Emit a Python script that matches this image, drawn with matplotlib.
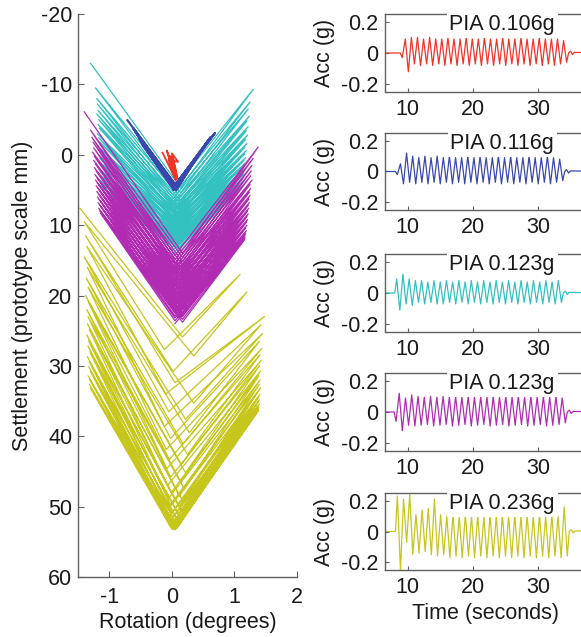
import numpy as np
import matplotlib
matplotlib.use("Agg")
import matplotlib.pyplot as plt
import matplotlib.transforms as mtransforms

plt.rcParams['font.family'] = ['Liberation Sans', 'DejaVu Sans']
plt.rcParams['axes.unicode_minus'] = False

FS = 15.5
SPINE = '#606060'
TXT = '#1a1a1a'

# ---------------- colours / labels ----------------
series_names = ['PIA 0.106g', 'PIA 0.116g', 'PIA 0.123g', 'PIA 0.123g', 'PIA 0.236g']
series_colors = ['#ee3526', '#3a48ad', '#33c1c1', '#b12bb3', '#c6c61c']

# ---------------- hysteresis data (rotation deg, settlement mm) ----------------
# red (0.106g) small cluster
red_rot = [-0.15, 0.05, -0.08, 0.06, -0.02, 0.08, 0.00, 0.10, -0.05, 0.07, 0.02, 0.09, -0.03, 0.06, 0.04, 0.07]
red_set = [-0.3, 3.3, -0.6, 3.0, 0.2, 3.4, -0.2, 1.0, 0.8, 3.5, 0.5, 3.2, 1.5, 3.6, 2.0, 3.4]

# blue (0.116g)
blue_lrot = [-0.71, -0.62, -0.58, -0.55, -0.52, -0.50, -0.48, -0.46]
blue_lset = [-4.9, -3.8, -3.2, -2.8, -2.3, -2.0, -1.6, -1.3]
blue_va = [4.4, 4.5, 4.6, 4.7, 4.8, 4.8, 4.9, 5.0]
blue_rrot = [0.69, 0.62, 0.58, 0.55, 0.52, 0.50, 0.47, 0.45]
blue_rset = [-3.1, -2.5, -2.0, -1.6, -1.2, -0.9, -0.6, -0.3]
blue_vb = [4.5, 4.6, 4.6, 4.7, 4.8, 4.9, 4.9, 5.0]
blue_vrot = (0.07, 0.03)

# cyan (0.123g)
cyan_lrot = [-1.30, -1.22, -1.20, -1.19, -1.18, -1.20, -1.17, -1.18, -1.16, -1.19, -1.17, -1.15, -1.18,
             -1.16, -1.17, -1.15, -1.16, -1.14, -1.17, -1.15, -1.16, -1.14, -1.15, -1.13, -1.15, -1.12]
cyan_lset = [-13.0, -9.5, -8.0, -7.2, -6.3, -5.8, -5.0, -4.3, -3.8, -3.0, -2.4, -1.8, -1.2,
             -0.6, 0.0, 0.5, 1.0, 1.5, 2.0, 2.4, 2.8, 3.2, 3.6, 4.0, 4.3, 4.6]
cyan_va = [4.7, 5.4, 6.0, 6.5, 6.9, 7.3, 7.7, 8.0, 8.4, 8.7, 9.0, 9.3, 9.6,
           9.9, 10.2, 10.5, 10.8, 11.1, 11.4, 11.7, 12.0, 12.3, 12.6, 12.9, 13.2, 13.6]
cyan_rrot = [1.30, 1.25, 1.22, 1.24, 1.20, 1.22, 1.19, 1.21, 1.18, 1.20, 1.17, 1.19, 1.16,
             1.18, 1.15, 1.17, 1.14, 1.16, 1.13, 1.15, 1.12, 1.14, 1.12, 1.13, 1.11, 1.12]
cyan_rset = [-9.3, -7.5, -6.5, -5.5, -4.8, -4.0, -3.4, -2.8, -2.2, -1.6, -1.1, -0.6, -0.1,
             0.4, 0.8, 1.2, 1.6, 2.0, 2.4, 2.7, 3.0, 3.3, 3.6, 3.9, 4.2, 4.5]
cyan_vb = [5.0, 5.7, 6.2, 6.7, 7.1, 7.5, 7.9, 8.2, 8.6, 8.9, 9.2, 9.5, 9.8,
           10.1, 10.4, 10.7, 11.0, 11.3, 11.6, 11.9, 12.2, 12.5, 12.8, 13.1, 13.5, 14.0]
cyan_vrot = (0.14, 0.02)

# magenta (0.123g)
mag_lrot = [-1.40, -1.30, -1.28, -1.26, -1.25, -1.27, -1.24, -1.25, -1.22, -1.24, -1.21, -1.23, -1.20,
            -1.22, -1.19, -1.21, -1.18, -1.20, -1.17, -1.19, -1.16, -1.18, -1.15, -1.17, -1.15, -1.14]
mag_lset = [-6.1, -3.5, -2.5, -1.8, -1.0, -0.4, 0.2, 0.8, 1.3, 1.8, 2.3, 2.8, 3.2,
            3.6, 4.0, 4.4, 4.8, 5.2, 5.6, 6.0, 6.4, 6.8, 7.2, 7.6, 8.0, 8.3]
mag_va = [14.0, 14.6, 15.2, 15.7, 16.2, 16.6, 17.0, 17.4, 17.8, 18.2, 18.6, 19.0, 19.4,
          19.7, 20.0, 20.4, 20.7, 21.0, 21.4, 21.7, 22.0, 22.4, 22.7, 23.0, 23.4, 23.8]
mag_rrot = [1.38, 1.30, 1.28, 1.27, 1.26, 1.28, 1.25, 1.26, 1.24, 1.25, 1.23, 1.24, 1.22,
            1.23, 1.21, 1.22, 1.20, 1.21, 1.19, 1.20, 1.18, 1.19, 1.18, 1.17, 1.17, 1.16]
mag_rset = [-1.1, 0.5, 1.5, 2.3, 3.0, 3.6, 4.2, 4.8, 5.3, 5.8, 6.3, 6.8, 7.2,
            7.6, 8.0, 8.4, 8.8, 9.2, 9.6, 10.0, 10.4, 10.8, 11.2, 11.5, 11.8, 12.1]
mag_vb = [14.3, 14.9, 15.5, 16.0, 16.4, 16.8, 17.2, 17.6, 18.0, 18.4, 18.8, 19.2, 19.5,
          19.9, 20.2, 20.5, 20.9, 21.2, 21.5, 21.9, 22.2, 22.5, 22.9, 23.2, 23.6, 24.0]
mag_vrot = (0.17, 0.05)

# yellow (0.236g)
yel_lrot = [-1.47, -1.40, -1.38, -1.36, -1.40, -1.35, -1.37, -1.34, -1.38, -1.33, -1.36, -1.34, -1.35,
            -1.32, -1.36, -1.33, -1.34, -1.31, -1.35, -1.32, -1.33, -1.30, -1.34, -1.31, -1.32, -1.30]
yel_lset = [7.6, 9.5, 11.5, 13.0, 14.5, 16.0, 17.5, 18.8, 20.0, 21.0, 22.0, 23.0, 24.0,
            24.8, 25.6, 26.4, 27.2, 28.0, 28.7, 29.4, 30.1, 30.8, 31.4, 32.0, 32.6, 33.2]
yel_va = [25.9, 28.6, 32.4, 35.3, 37.6, 39.5, 41.1, 42.6, 44.0, 45.2, 46.4, 47.5, 48.5,
          49.3, 50.0, 50.6, 51.1, 51.6, 52.0, 52.3, 52.6, 52.8, 53.0, 53.1, 53.2, 53.3]
yel_va_rot = [0.17, 0.35, 0.05, 0.35, 0.22, 0.28, 0.18, 0.25, 0.15, 0.22, 0.14, 0.20, 0.12,
              0.18, 0.11, 0.16, 0.10, 0.14, 0.09, 0.12, 0.08, 0.10, 0.07, 0.08, 0.06, 0.05]
yel_rrot = [1.09, 1.20, 1.48, 1.42, 1.45, 1.40, 1.44, 1.41, 1.43, 1.40, 1.42, 1.39, 1.41,
            1.40, 1.42, 1.38, 1.41, 1.39, 1.40, 1.38, 1.40, 1.37, 1.39, 1.38, 1.39, 1.37]
yel_rset = [17.0, 19.5, 23.0, 24.2, 25.4, 26.5, 27.5, 28.4, 29.2, 30.0, 30.7, 31.4, 32.0,
            32.6, 33.1, 33.6, 34.0, 34.4, 34.8, 35.1, 35.4, 35.7, 35.9, 36.1, 36.3, 36.5]
yel_vb = [27.7, 30.8, 34.0, 36.5, 38.6, 40.3, 41.9, 43.3, 44.6, 45.8, 47.0, 48.0, 48.9,
          49.7, 50.3, 50.9, 51.4, 51.8, 52.2, 52.5, 52.7, 52.9, 53.0, 53.1, 53.2, 53.3]
yel_vb_rot = [-0.12, 0.02, -0.10, -0.05, -0.12, -0.02, -0.09, -0.04, -0.08, -0.02, -0.07, -0.01, -0.06,
              -0.02, -0.05, 0.00, -0.04, -0.01, -0.03, 0.00, -0.02, 0.01, -0.01, 0.01, 0.00, 0.02]

# ---------------- acceleration records (peak sequence, g) ----------------
acc_start = [8.85, 8.1, 8.0, 7.9, 8.1]
acc_end = [34.7, 34.1, 33.9, 34.5, 34.8]
red_peaks = [-0.03, 0.09, -0.12, 0.10, -0.07, 0.10, -0.08, 0.09, -0.07, 0.10, -0.08, 0.09, -0.07, 0.09,
             -0.08, 0.10, -0.07, 0.09, -0.08, 0.09, -0.07, 0.10, -0.08, 0.09, -0.07, 0.09, -0.08, 0.10,
             -0.07, 0.09, -0.08, 0.09, -0.07, 0.10, -0.08, 0.09, -0.07, 0.09, -0.08, 0.10, -0.07, 0.09,
             -0.08, 0.09, -0.07, 0.10, -0.08, 0.09, -0.07, 0.09, -0.08, 0.09, -0.07, 0.08, -0.06]
blue_peaks = [-0.02, 0.05, -0.08, 0.12, -0.07, 0.10, -0.08, 0.09, -0.07, 0.10, -0.08, 0.09, -0.07, 0.10,
              -0.08, 0.09, -0.07, 0.10, -0.08, 0.09, -0.07, 0.09, -0.08, 0.10, -0.07, 0.09, -0.08, 0.10,
              -0.07, 0.09, -0.08, 0.09, -0.07, 0.10, -0.08, 0.09, -0.07, 0.10, -0.08, 0.09, -0.07, 0.09,
              -0.08, 0.10, -0.07, 0.09, -0.08, 0.09, -0.07, 0.10, -0.08, 0.09, -0.07, 0.08, -0.06]
cyan_peaks = [0.09, -0.11, 0.12, -0.07, 0.09, -0.08, 0.08, -0.06, 0.08, -0.07, 0.07, -0.06, 0.08, -0.07,
              0.07, -0.07, 0.08, -0.06, 0.07, -0.07, 0.08, -0.06, 0.07, -0.07, 0.08, -0.06, 0.07, -0.07,
              0.08, -0.06, 0.07, -0.07, 0.08, -0.06, 0.07, -0.07, 0.08, -0.06, 0.07, -0.07, 0.08, -0.06,
              0.07, -0.07, 0.08, -0.06, 0.07, -0.07, 0.08, -0.06, 0.07, -0.07, 0.08, -0.06]
mag_peaks = [-0.06, 0.12, -0.12, 0.09, -0.085, 0.11, -0.09, 0.10, -0.085, 0.095, -0.08, 0.10, -0.09, 0.095,
             -0.085, 0.10, -0.08, 0.095, -0.09, 0.10, -0.085, 0.095, -0.08, 0.10, -0.09, 0.095, -0.085, 0.10,
             -0.08, 0.095, -0.09, 0.10, -0.085, 0.095, -0.08, 0.10, -0.09, 0.095, -0.085, 0.10, -0.08, 0.095,
             -0.09, 0.10, -0.085, 0.095, -0.08, 0.10, -0.09, 0.095, -0.085, 0.10, -0.08, 0.09, -0.07]
yel_peaks = [0.23, -0.25, 0.21, -0.07, 0.24, -0.15, 0.11, -0.14, 0.14, -0.13, 0.15, -0.15, 0.21, -0.16,
             0.11, -0.15, 0.10, -0.17, 0.11, -0.16, 0.10, -0.17, 0.11, -0.16, 0.10, -0.17, 0.11, -0.16,
             0.10, -0.17, 0.11, -0.16, 0.10, -0.17, 0.11, -0.16, 0.10, -0.17, 0.11, -0.16, 0.10, -0.17,
             0.11, -0.16, 0.10, -0.17, 0.11, -0.16, 0.10, -0.17, 0.11, -0.16, 0.10, -0.17, 0.16, -0.16]
acc_tail = [0.012, -0.010, 0.004]
acc_peaks = [red_peaks, blue_peaks, cyan_peaks, mag_peaks, yel_peaks]

left_xticks = [-1, 0, 1, 2]
left_yticks = [-20, -10, 0, 10, 20, 30, 40, 50, 60]
right_xticks = [10, 20, 30]
right_yticks = [-0.2, 0, 0.2]
right_yticklabels = ['-0.2', '0', '0.2']


def loop_path(lrot, lset, va, rrot, rset, vb, va_rot, vb_rot):
    n = len(lrot)
    if np.isscalar(va_rot):
        va_rot = [va_rot] * n
    if np.isscalar(vb_rot):
        vb_rot = [vb_rot] * n
    xs, ys = [], []
    for i in range(n):
        xs += [lrot[i], va_rot[i], rrot[i], vb_rot[i]]
        ys += [lset[i], va[i], rset[i], vb[i]]
    return xs, ys


W, H = 581, 637
fig = plt.figure(figsize=(W / 100, H / 100), dpi=100)


def frac(x0, y0, x1, y1):
    return [x0 / W, 1 - y1 / H, (x1 - x0) / W, (y1 - y0) / H]


# ---------------- left: hysteresis ----------------
ax = fig.add_axes(frac(78, 14, 297, 577))
lw = 0.9
x, y = loop_path(yel_lrot, yel_lset, yel_va, yel_rrot, yel_rset, yel_vb, yel_va_rot, yel_vb_rot)
ax.plot(x, y, color=series_colors[4], lw=lw)
x, y = loop_path(cyan_lrot, cyan_lset, cyan_va, cyan_rrot, cyan_rset, cyan_vb, *cyan_vrot)
ax.plot(x, y, color=series_colors[2], lw=lw)
x, y = loop_path(mag_lrot, mag_lset, mag_va, mag_rrot, mag_rset, mag_vb, *mag_vrot)
ax.plot(x, y, color=series_colors[3], lw=lw)
x, y = loop_path(blue_lrot, blue_lset, blue_va, blue_rrot, blue_rset, blue_vb, *blue_vrot)
ax.plot(x, y, color=series_colors[1], lw=1.6)
ax.plot(red_rot, red_set, color=series_colors[0], lw=1.3)

ax.set_xlim(-1.5, 2)
ax.set_ylim(60, -20)
ax.set_xticks(left_xticks)
ax.set_yticks(left_yticks)
for s in ['top', 'right']:
    ax.spines[s].set_visible(False)
for s in ['left', 'bottom']:
    ax.spines[s].set_color(SPINE)
    ax.spines[s].set_linewidth(1.0)
ax.tick_params(axis='both', direction='in', length=4, color=SPINE, labelcolor=TXT, labelsize=FS)
ax.tick_params(axis='y', pad=4)
ax.tick_params(axis='x', pad=7)
ax.set_xlabel('Rotation (degrees)', fontsize=FS, color=TXT, labelpad=3)
ax.set_ylabel('Settlement (prototype scale mm)', fontsize=FS, color=TXT, labelpad=6)

# ---------------- right: acceleration records ----------------
panel_y = [(14, 92), (133, 210), (254, 332), (373, 451), (493, 570)]
x_left_px, px_per_s, t_min, t_max = 385, 6.51, 6.5, 40.0
x_right_px = x_left_px + (t_max - t_min) * px_per_s
for k in range(5):
    y0, y1 = panel_y[k]
    a = fig.add_axes(frac(x_left_px, y0, x_right_px, y1))
    pk = acc_peaks[k]
    tp = np.linspace(acc_start[k] + 0.3, acc_end[k] - 0.3, len(pk))
    tt = np.concatenate([[t_min, acc_start[k]], tp,
                         [acc_end[k], acc_end[k] + 0.3, acc_end[k] + 0.6, acc_end[k] + 0.9, t_max]])
    aa = np.concatenate([[0, 0], pk, [0], acc_tail, [0]])
    a.plot(tt, aa, color=series_colors[k], lw=0.9)
    a.set_xlim(t_min, t_max)
    a.set_ylim(-0.25, 0.25)
    a.set_xticks(right_xticks)
    a.set_yticks(right_yticks)
    a.set_yticklabels(right_yticklabels)
    a.spines['right'].set_visible(False)
    for s in ['left', 'bottom', 'top']:
        a.spines[s].set_color(SPINE)
        a.spines[s].set_linewidth(1.0)
    a.tick_params(axis='both', direction='in', length=3, color=SPINE, labelcolor=TXT, labelsize=FS)
    a.tick_params(axis='y', pad=5)
    a.tick_params(axis='x', pad=5)
    a.set_ylabel('Acc (g)', fontsize=FS, color=TXT, labelpad=4)
    trans = mtransforms.blended_transform_factory(a.transData, a.transAxes)
    a.text(24.5, 1.0, series_names[k], transform=trans, ha='center', va='top', fontsize=FS,
           color=TXT, bbox=dict(facecolor='white', edgecolor='none', pad=2.0), zorder=5)

fig.text(485 / W, 1 - 614 / H, 'Time (seconds)', ha='center', va='center', fontsize=FS, color=TXT)

fig.savefig('out.png', dpi=100)
